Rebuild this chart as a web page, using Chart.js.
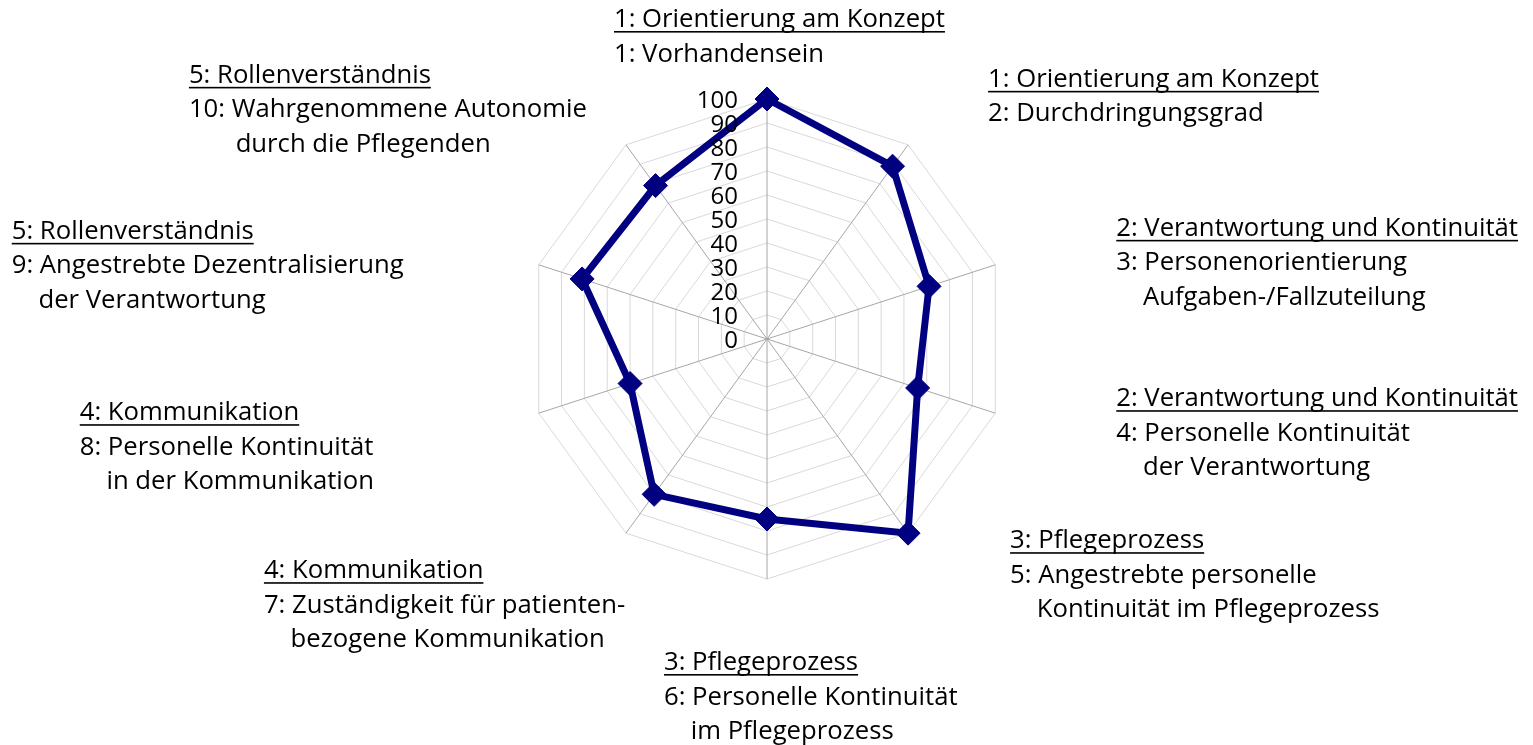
<!DOCTYPE html>
<html>
<head>
<meta charset="utf-8">
<script src="https://cdn.jsdelivr.net/npm/chart.js@4.4.1/dist/chart.umd.min.js"></script>
<style>
  html, body { margin: 0; background: #fff; }
  canvas { display: block; }
</style>
</head>
<body>
<canvas id="radar" width="1533" height="745"></canvas>
<script>
// underlined heading of every spoke
const groups = [
  "1: Orientierung am Konzept",
  "1: Orientierung am Konzept",
  "2: Verantwortung und Kontinuität",
  "2: Verantwortung und Kontinuität",
  "3: Pflegeprozess",
  "3: Pflegeprozess",
  "4: Kommunikation",
  "4: Kommunikation",
  "5: Rollenverständnis",
  "5: Rollenverständnis"
];

// item text under the heading (one array per spoke, one entry per line)
const items = [
  ["1: Vorhandensein"],
  ["2: Durchdringungsgrad"],
  ["3: Personenorientierung", "    Aufgaben-/Fallzuteilung"],
  ["4: Personelle Kontinuität", "    der Verantwortung"],
  ["5: Angestrebte personelle", "    Kontinuität im Pflegeprozess"],
  ["6: Personelle Kontinuität", "    im Pflegeprozess"],
  ["7: Zuständigkeit für patienten-", "    bezogene Kommunikation"],
  ["8: Personelle Kontinuität", "    in der Kommunikation"],
  ["9: Angestrebte Dezentralisierung", "    der Verantwortung"],
  ["10: Wahrgenommene Autonomie", "       durch die Pflegenden"]
];

const values = [100, 89, 71, 66, 100, 75, 80, 60, 81, 79];

const scaleMin = 0;
const scaleMax = 100;
const scaleStep = 10;

// where each text block sits, relative to the outer end of its spoke
const labelShift = [
  [-153, -72], [80, -58], [121, -29], [121, -7], [102, 15],
  [-103, 91], [-362, 45], [-459, 7], [-527, -26], [-437, -62]
];

const textPlugin = {
  id: "spokeText",
  afterDatasetsDraw(chart) {
    const scale = chart.scales.r;
    const ctx = chart.ctx;
    ctx.save();
    ctx.fillStyle = "#000";

    // value labels left of the vertical spoke
    ctx.font = '24px "Open Sans"';
    ctx.textAlign = "right";
    ctx.textBaseline = "middle";
    scale.ticks.forEach(t => {
      const y = scale.yCenter - scale.getDistanceFromCenterForValue(t.value);
      ctx.fillText(t.label, scale.xCenter - 29, y + 2);
    });

    // spoke labels
    ctx.font = '25.7px "Open Sans"';
    ctx.textAlign = "left";
    ctx.textBaseline = "alphabetic";
    chart.data.labels.forEach((_, i) => {
      const p = scale.getPointPosition(i, scale.drawingArea);
      const x = p.x + labelShift[i][0];
      let y = p.y + labelShift[i][1];
      ctx.fillText(groups[i], x, y);
      const w = ctx.measureText(groups[i]).width;
      ctx.fillRect(x, y + 4, w, 1.6);
      items[i].forEach(line => {
        y += 34.5;
        ctx.fillText(line, x, y);
      });
    });
    ctx.restore();
  }
};

Chart.defaults.font.family = '"Open Sans", sans-serif';

new Chart(document.getElementById("radar"), {
  type: "radar",
  data: {
    labels: items.map(l => l[0]),
    datasets: [
      {
        data: values,
        fill: false,
        borderColor: "#000080",
        borderWidth: 7,
        pointStyle: "rectRot",
        pointRadius: 12,
        pointBackgroundColor: "#000080",
        pointBorderColor: "#000080",
        pointBorderWidth: 1,
        tension: 0
      }
    ]
  },
  options: {
    responsive: false,
    animation: false,
    events: [],
    layout: {
      padding: { top: 99, bottom: 166, left: 1, right: 0 }
    },
    plugins: {
      legend: { display: false },
      tooltip: { enabled: false }
    },
    scales: {
      r: {
        min: scaleMin,
        max: scaleMax,
        ticks: { stepSize: scaleStep, display: false },
        pointLabels: { display: false },
        grid: { color: "#d9d9d9", lineWidth: 1 },
        angleLines: { color: "#a6a6a6", lineWidth: 1 }
      }
    }
  },
  plugins: [textPlugin]
});
</script>
</body>
</html>
